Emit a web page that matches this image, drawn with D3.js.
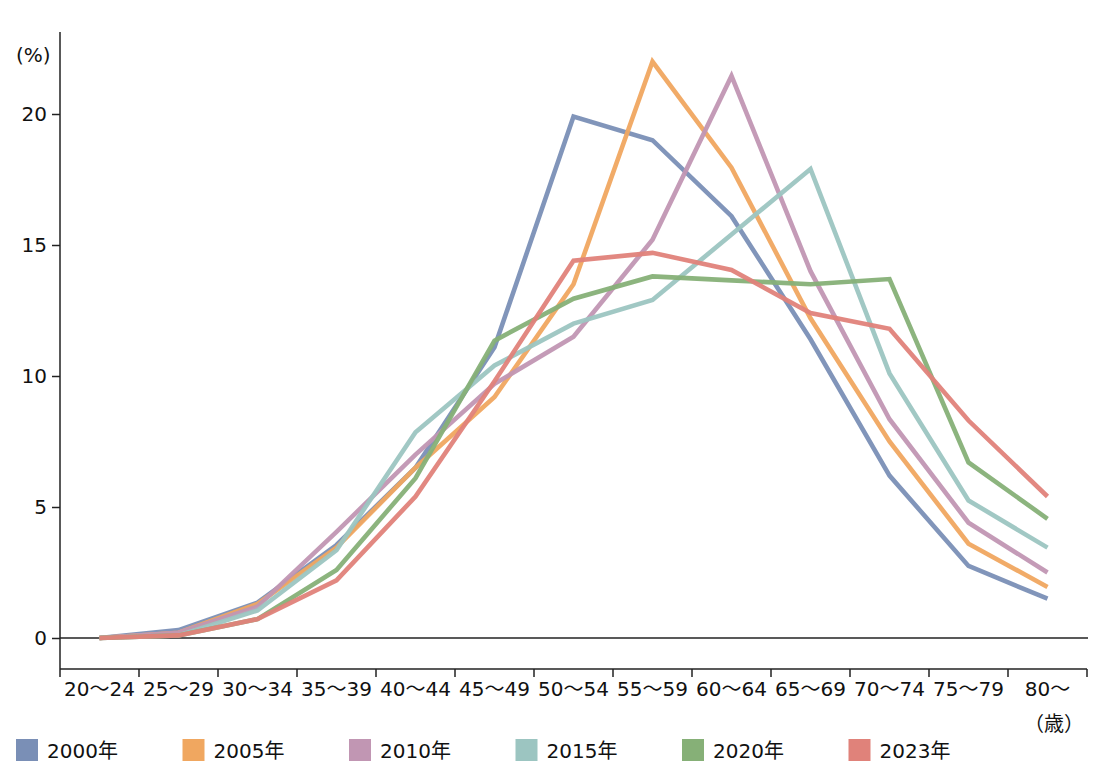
<!DOCTYPE html>
<html><head><meta charset="utf-8">
<script src="https://cdn.jsdelivr.net/npm/d3@7"></script>
<style>
body{margin:0;background:#fff;}
text{font-family:"DejaVu Sans","Noto Sans CJK JP",sans-serif;fill:#111;}
</style></head>
<body><svg id="c" width="1119" height="777"></svg>
<script>
const categories = ["20～24","25～29","30～34","35～39","40～44","45～49","50～54","55～59","60～64","65～69","70～74","75～79","80～"];
const seriesNames = ["2000年","2005年","2010年","2015年","2020年","2023年"];
const v2000 = [0.0, 0.3, 1.35, 3.55, 6.5, 11.1, 19.9, 19.0, 16.1, 11.4, 6.2, 2.75, 1.5];
const v2005 = [0.0, 0.2, 1.3, 3.45, 6.5, 9.2, 13.5, 22.0, 17.95, 12.2, 7.5, 3.6, 1.95];
const v2010 = [0.0, 0.2, 1.2, 4.05, 7.0, 9.7, 11.5, 15.2, 21.45, 14.0, 8.35, 4.4, 2.5];
const v2015 = [0.0, 0.1, 1.05, 3.35, 7.85, 10.4, 12.0, 12.9, 15.4, 17.9, 10.1, 5.25, 3.45];
const v2020 = [0.0, 0.1, 0.72, 2.6, 6.1, 11.35, 12.95, 13.8, 13.65, 13.5, 13.7, 6.7, 4.55];
const v2023 = [0.0, 0.1, 0.72, 2.2, 5.4, 9.8, 14.4, 14.7, 14.05, 12.4, 11.8, 8.3, 5.4];
const colors = ["#7a8fb6","#f0a760","#c196b3","#9cc5c1","#86b077","#e0827a"];
const yTicks = [0,5,10,15,20];

const seriesValues = [v2000,v2005,v2010,v2015,v2020,v2023];
const svg = d3.select("#c");
const x = d3.scaleBand().domain(categories).range([60,1087]);
const y = d3.scaleLinear().domain([0,20]).range([638,114]);
const yBottom = 669, yTop = 32;
const fs = "20px";

// y axis
const ya = svg.append("g").attr("transform","translate(60,0)")
  .call(d3.axisLeft(y).tickValues(yTicks).tickSize(8).tickPadding(5).tickFormat(d3.format("d")));
ya.select(".domain").remove();
ya.selectAll("text").style("font-size",fs);
ya.selectAll("line").attr("stroke","#222").attr("stroke-width",1.5);
svg.append("line").attr("x1",60).attr("x2",60).attr("y1",yTop).attr("y2",yBottom)
  .attr("stroke","#222").attr("stroke-width",1.5);

// zero line
svg.append("line").attr("x1",60).attr("x2",1088).attr("y1",y(0)).attr("y2",y(0))
  .attr("stroke","#222").attr("stroke-width",1.5);

// x axis
const xa = svg.append("g").attr("transform",`translate(0,${yBottom})`)
  .call(d3.axisBottom(x).tickSize(0).tickPadding(13));
xa.select(".domain").remove();
xa.selectAll("text").style("font-size",fs);
svg.append("line").attr("x1",60).attr("x2",x.range()[1]).attr("y1",yBottom).attr("y2",yBottom)
  .attr("stroke","#222").attr("stroke-width",1.5);
const bounds = categories.map(c=>x(c)).concat([x.range()[1]]);
svg.selectAll(".xt").data(bounds).enter().append("line")
  .attr("x1",d=>d).attr("x2",d=>d).attr("y1",yBottom).attr("y2",yBottom+8)
  .attr("stroke","#222").attr("stroke-width",1.5);

// units
svg.append("text").attr("x",16).attr("y",62).style("font-size",fs).text("(%)");
svg.append("text").attr("x",1054).attr("y",731).attr("text-anchor","middle").style("font-size",fs).text("（歳）");

// lines
const line = d3.line().x((d,i)=>x(categories[i])+x.bandwidth()/2).y(d=>y(d));
seriesValues.forEach((vals,k)=>{
  svg.append("path").attr("d",line(vals)).attr("fill","none")
    .attr("stroke",colors[k]).attr("stroke-width",4.6).attr("stroke-opacity",0.95)
    .attr("stroke-linejoin","miter");
});

// legend
seriesNames.forEach((n,k)=>{
  const lx = 16 + k*166.5;
  svg.append("rect").attr("x",lx).attr("y",739).attr("width",22).attr("height",22).attr("fill",colors[k]);
  svg.append("text").attr("x",lx+31).attr("y",758).style("font-size",fs).text(n);
});
</script></body></html>
